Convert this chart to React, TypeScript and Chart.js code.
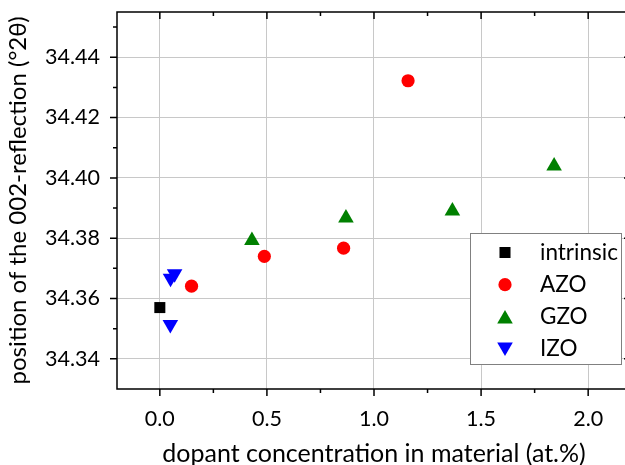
import React, { useEffect, useRef } from 'react';
import { Chart, registerables } from 'chart.js';
import { drawPoint } from 'chart.js/helpers';

Chart.register(...registerables);

// ---- data ----
const intrinsicX = [0.0];
const intrinsicY = [34.357];
const azoX = [0.148, 0.488, 0.858, 1.159];
const azoY = [34.3641, 34.374, 34.3767, 34.4322];
const gzoX = [0.43, 0.869, 1.366, 1.841];
const gzoY = [34.3792, 34.3867, 34.389, 34.4039];
const izoX = [0.05, 0.069, 0.049];
const izoY = [34.3667, 34.3682, 34.3514];

const seriesLabels = ['intrinsic', 'AZO', 'GZO', 'IZO'];

const xTicks = [0, 0.5, 1, 1.5, 2];
const xMinorTicks = [0.25, 0.75, 1.25, 1.75];
const yTicks = [34.34, 34.36, 34.38, 34.4, 34.42, 34.44];
const yMinorTicks = [34.35, 34.37, 34.39, 34.41, 34.43, 34.45];
const xRange = [-0.2, 2.2];
const yRange = [34.33, 34.455];

const xTitle = 'dopant concentration in material (at.%)';
const yTitle = 'position of the 002-reflection (°2θ)';

const FONT = 'Lato';
const VIEW_W = 625;
const CANVAS_W = 631;
const CANVAS_H = 465;

const zip = (xs: number[], ys: number[]) => xs.map((x, i) => ({ x, y: ys[i] }));

const framePlugin = {
  id: 'frame',
  afterDatasetsDraw(chart: any) {
    const { ctx, chartArea, scales } = chart;
    const { left, right, top, bottom } = chartArea;
    const x = scales.x;
    const y = scales.y;
    ctx.save();
    ctx.strokeStyle = '#000';
    ctx.lineWidth = 1.5;
    ctx.beginPath();
    ctx.moveTo(left, top);
    ctx.lineTo(right, top);
    ctx.lineTo(right, bottom);
    ctx.lineTo(left, bottom);
    ctx.closePath();
    ctx.stroke();
    const major = 7;
    const minor = 4;
    ctx.beginPath();
    const xt = (v: number, len: number) => {
      const px = x.getPixelForValue(v);
      ctx.moveTo(px, bottom);
      ctx.lineTo(px, bottom + len);
      ctx.moveTo(px, top);
      ctx.lineTo(px, top + len);
    };
    const yt = (v: number, len: number) => {
      const py = y.getPixelForValue(v);
      ctx.moveTo(left, py);
      ctx.lineTo(left - len, py);
      ctx.moveTo(right, py);
      ctx.lineTo(right - len, py);
    };
    xTicks.forEach((v) => xt(v, major));
    xMinorTicks.forEach((v) => xt(v, minor));
    yTicks.forEach((v) => yt(v, major));
    yMinorTicks.forEach((v) => yt(v, minor));
    ctx.stroke();
    ctx.restore();
  },
};

const legendPlugin = {
  id: 'boxLegend',
  afterDraw(chart: any) {
    const { ctx } = chart;
    const x0 = 470;
    const y0 = 233;
    const w = 151;
    const h = 131;
    const firstRow = 19.5;
    const rowH = 32.2;
    const markerDx = 35;
    const textDx = 70;
    ctx.save();
    ctx.fillStyle = '#fff';
    ctx.fillRect(x0, y0, w, h);
    ctx.strokeStyle = '#808080';
    ctx.lineWidth = 1;
    ctx.strokeRect(x0 + 0.5, y0 + 0.5, w, h);
    chart.data.datasets.forEach((ds: any, i: number) => {
      const cy = y0 + firstRow + i * rowH;
      ctx.fillStyle = ds.backgroundColor;
      ctx.strokeStyle = ds.borderColor;
      drawPoint(
        ctx,
        { pointStyle: ds.pointStyle, radius: ds.pointRadius, rotation: ds.rotation || 0, borderWidth: 0 } as any,
        x0 + markerDx,
        cy + (ds.legendDy || 0)
      );
      ctx.fillStyle = '#000';
      ctx.font = `22.5px ${FONT}`;
      ctx.textBaseline = 'middle';
      ctx.textAlign = 'left';
      ctx.fillText(ds.label, x0 + textDx, cy);
    });
    ctx.restore();
  },
};

export default function App() {
  const ref = useRef<HTMLCanvasElement | null>(null);
  useEffect(() => {
    document.body.style.margin = '0';
    if (!ref.current) return;
    const chart = new Chart(ref.current, {
      type: 'scatter',
      data: {
        datasets: [
          {
            label: seriesLabels[0],
            data: zip(intrinsicX, intrinsicY),
            pointStyle: 'rect',
            pointRadius: 7.8,
            backgroundColor: '#000000',
            borderColor: '#000000',
            borderWidth: 0,
          },
          {
            label: seriesLabels[1],
            data: zip(azoX, azoY),
            pointStyle: 'circle',
            pointRadius: 6.6,
            backgroundColor: '#ff0000',
            borderColor: '#ff0000',
            borderWidth: 0,
          },
          {
            label: seriesLabels[2],
            data: zip(gzoX, gzoY),
            pointStyle: 'triangle',
            pointRadius: 9,
            backgroundColor: '#008000',
            borderColor: '#008000',
            borderWidth: 0,
            legendDy: 2,
          },
          {
            label: seriesLabels[3],
            data: zip(izoX, izoY),
            pointStyle: 'triangle',
            rotation: 180,
            pointRadius: 9,
            backgroundColor: '#0000ff',
            borderColor: '#0000ff',
            borderWidth: 0,
            legendDy: -2,
          },
        ] as any,
      },
      options: {
        animation: false,
        responsive: false,
        maintainAspectRatio: false,
        layout: { autoPadding: false, padding: { top: 12, right: 0, left: 0, bottom: 0 } },
        plugins: { legend: { display: false }, tooltip: { enabled: false } },
        scales: {
          x: {
            type: 'linear',
            min: xRange[0],
            max: xRange[1],
            afterBuildTicks: (s: any) => {
              s.ticks = xTicks.map((v) => ({ value: v }));
            },
            afterFit: (s: any) => {
              s.height = 76;
              s.paddingLeft = 0;
              s.paddingRight = 0;
            },
            ticks: {
              color: '#000',
              font: { family: FONT, size: 21.5 },
              padding: 17,
              maxRotation: 0,
              callback: (v: any) => Number(v).toFixed(1),
            },
            grid: { color: '#c8c8c8', lineWidth: 1, drawTicks: false },
            border: { display: false },
            title: {
              display: true,
              text: xTitle,
              color: '#000',
              font: { family: FONT, size: 25 },
              padding: { top: 0, bottom: -4 },
            },
          },
          y: {
            type: 'linear',
            min: yRange[0],
            max: yRange[1],
            afterBuildTicks: (s: any) => {
              s.ticks = yTicks.map((v) => ({ value: v }));
            },
            afterFit: (s: any) => {
              s.width = 117;
              s.paddingTop = 0;
              s.paddingBottom = 0;
            },
            ticks: {
              color: '#000',
              font: { family: FONT, size: 21.5 },
              padding: 17,
              callback: (v: any) => Number(v).toFixed(2),
            },
            grid: { color: '#c8c8c8', lineWidth: 1, drawTicks: false },
            border: { display: false },
            title: {
              display: true,
              text: yTitle,
              color: '#000',
              font: { family: FONT, size: 24 },
              padding: { top: 4, bottom: 0 },
            },
          },
        },
      },
      plugins: [framePlugin, legendPlugin],
    });
    return () => chart.destroy();
  }, []);
  return (
    <div style={{ width: VIEW_W, height: CANVAS_H, overflow: 'hidden', position: 'relative', background: '#fff' }}>
      <div style={{ width: CANVAS_W, height: CANVAS_H }}>
        <canvas ref={ref} width={CANVAS_W} height={CANVAS_H} style={{ display: 'block', width: CANVAS_W, height: CANVAS_H }} />
      </div>
    </div>
  );
}
